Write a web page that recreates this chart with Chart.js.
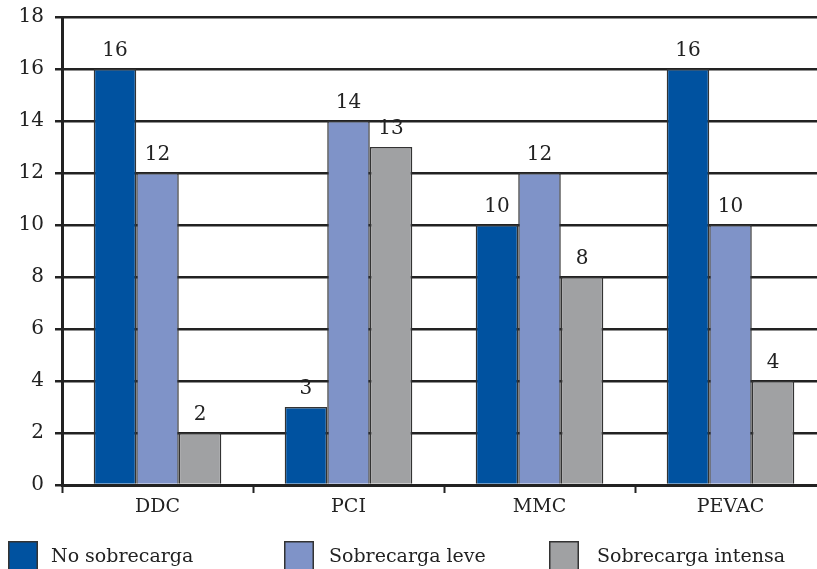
<!DOCTYPE html>
<html>
<head>
<meta charset="utf-8">
<script src="https://cdn.jsdelivr.net/npm/chart.js@4/dist/chart.umd.min.js"></script>
<style>
  html, body { margin: 0; padding: 0; background: #fff; overflow: hidden; }
  #wrap { position: relative; width: 828px; height: 569px; }
</style>
</head>
<body>
<div id="wrap"><canvas id="c"></canvas></div>
<script>
// Grupos y series
const categories = ['DDC', 'PCI', 'MMC', 'PEVAC'];
const seriesNames = ['No sobrecarga', 'Sobrecarga leve', 'Sobrecarga intensa'];
const noSobrecarga = [16, 3, 10, 16];
const sobrecargaLeve = [12, 14, 12, 10];
const sobrecargaIntensa = [2, 13, 8, 4];
const seriesColors = ['#0052a0', '#7f93c8', '#a0a1a3'];

const FONT = '"DejaVu Serif", "Liberation Serif", serif';
const INK = '#222222';

// Value labels above each bar
const valueLabels = {
  id: 'valueLabels',
  afterDatasetsDraw(chart) {
    const ctx = chart.ctx;
    ctx.save();
    ctx.font = '20px ' + FONT;
    ctx.fillStyle = INK;
    ctx.textAlign = 'center';
    ctx.textBaseline = 'alphabetic';
    chart.data.datasets.forEach((ds, i) => {
      const meta = chart.getDatasetMeta(i);
      meta.data.forEach((bar, j) => {
        ctx.fillText(String(ds.data[j]), bar.x, bar.y - 13);
      });
    });
    ctx.restore();
  }
};

// Legend in fixed columns along the bottom edge
const columnLegend = {
  id: 'columnLegend',
  afterDraw(chart, args, opts) {
    const ctx = chart.ctx;
    ctx.save();
    ctx.font = '19px ' + FONT;
    ctx.textBaseline = 'alphabetic';
    ctx.textAlign = 'left';
    chart.data.datasets.forEach((ds, i) => {
      const x = opts.boxColumns[i];
      ctx.fillStyle = ds.backgroundColor;
      ctx.fillRect(x, opts.top, opts.box, opts.box);
      ctx.strokeStyle = '#333333';
      ctx.lineWidth = 1.5;
      ctx.strokeRect(x + 0.75, opts.top + 0.75, opts.box - 1.5, opts.box - 1.5);
      ctx.fillStyle = INK;
      ctx.fillText(ds.label, opts.textColumns[i], opts.top + 21);
    });
    ctx.restore();
  }
};

const values = [noSobrecarga, sobrecargaLeve, sobrecargaIntensa];

new Chart(document.getElementById('c'), {
  type: 'bar',
  data: {
    labels: categories,
    datasets: seriesNames.map((name, i) => ({
      label: name,
      data: values[i],
      backgroundColor: seriesColors[i],
      borderColor: '#333333',
      borderWidth: 1.5,
      categoryPercentage: 0.668,
      barPercentage: 1.0
    }))
  },
  options: {
    responsive: true,
    maintainAspectRatio: false,
    animation: false,
    layout: { padding: { top: 17, right: 2, bottom: 0, left: 0 } },
    plugins: {
      legend: { display: false },
      tooltip: { enabled: false },
      columnLegend: {
        boxColumns: [8, 284, 549],
        textColumns: [51, 329, 597],
        top: 541,
        box: 30
      }
    },
    scales: {
      x: {
        grid: {
          offset: true,
          drawOnChartArea: false,
          drawTicks: true,
          tickLength: 8,
          tickColor: INK,
          tickWidth: 2
        },
        border: { display: true, color: INK, width: 3 },
        ticks: {
          color: INK,
          font: { family: FONT, size: 19 },
          padding: 3,
          maxRotation: 0
        },
        afterFit(scale) { scale.height = 84; }
      },
      y: {
        min: 0,
        max: 18,
        grid: {
          color: INK,
          lineWidth: 2.5,
          drawTicks: true,
          tickLength: 7,
          tickColor: INK,
          tickWidth: 2.5
        },
        border: { display: true, color: INK, width: 3 },
        ticks: {
          stepSize: 2,
          color: INK,
          font: { family: FONT, size: 20, lineHeight: 0.6 },
          padding: 11
        },
        afterFit(scale) { scale.width = 62; }
      }
    }
  },
  plugins: [valueLabels, columnLegend]
});
</script>
</body>
</html>
